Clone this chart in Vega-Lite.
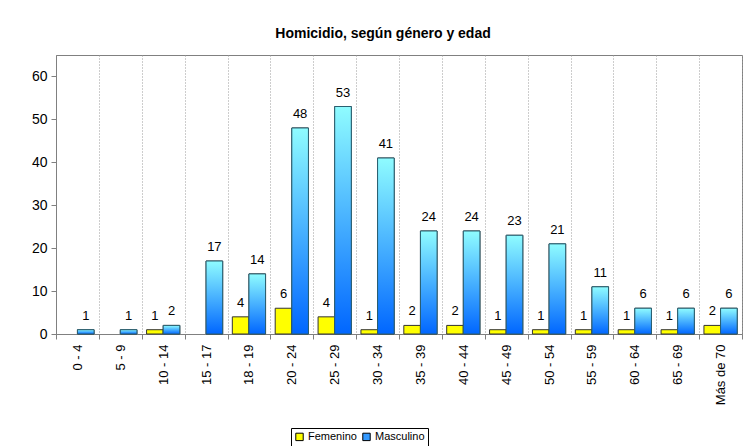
{
  "$schema": "https://vega.github.io/schema/vega-lite/v6.json",
  "width": 686,
  "height": 279,
  "autosize": {"type": "none"},
  "padding": {"left": 56, "top": 55, "right": 4, "bottom": 112},
  "background": "white",
  "title": {
    "text": "Homicidio, según género y edad",
    "font": "Liberation Sans",
    "fontSize": 14,
    "fontWeight": "bold",
    "color": "black",
    "anchor": "middle",
    "dx": -16,
    "offset": 14
  },
  "config": {
    "font": "Liberation Sans",
    "view": {"stroke": "#808080", "strokeWidth": 1}
  },
  "data": {
    "values": [
      {"edad": "0 - 4", "genero": "Femenino", "valor": 0},
      {"edad": "0 - 4", "genero": "Masculino", "valor": 1},
      {"edad": "5 - 9", "genero": "Femenino", "valor": 0},
      {"edad": "5 - 9", "genero": "Masculino", "valor": 1},
      {"edad": "10 - 14", "genero": "Femenino", "valor": 1},
      {"edad": "10 - 14", "genero": "Masculino", "valor": 2},
      {"edad": "15 - 17", "genero": "Femenino", "valor": 0},
      {"edad": "15 - 17", "genero": "Masculino", "valor": 17},
      {"edad": "18 - 19", "genero": "Femenino", "valor": 4},
      {"edad": "18 - 19", "genero": "Masculino", "valor": 14},
      {"edad": "20 - 24", "genero": "Femenino", "valor": 6},
      {"edad": "20 - 24", "genero": "Masculino", "valor": 48},
      {"edad": "25 - 29", "genero": "Femenino", "valor": 4},
      {"edad": "25 - 29", "genero": "Masculino", "valor": 53},
      {"edad": "30 - 34", "genero": "Femenino", "valor": 1},
      {"edad": "30 - 34", "genero": "Masculino", "valor": 41},
      {"edad": "35 - 39", "genero": "Femenino", "valor": 2},
      {"edad": "35 - 39", "genero": "Masculino", "valor": 24},
      {"edad": "40 - 44", "genero": "Femenino", "valor": 2},
      {"edad": "40 - 44", "genero": "Masculino", "valor": 24},
      {"edad": "45 - 49", "genero": "Femenino", "valor": 1},
      {"edad": "45 - 49", "genero": "Masculino", "valor": 23},
      {"edad": "50 - 54", "genero": "Femenino", "valor": 1},
      {"edad": "50 - 54", "genero": "Masculino", "valor": 21},
      {"edad": "55 - 59", "genero": "Femenino", "valor": 1},
      {"edad": "55 - 59", "genero": "Masculino", "valor": 11},
      {"edad": "60 - 64", "genero": "Femenino", "valor": 1},
      {"edad": "60 - 64", "genero": "Masculino", "valor": 6},
      {"edad": "65 - 69", "genero": "Femenino", "valor": 1},
      {"edad": "65 - 69", "genero": "Masculino", "valor": 6},
      {"edad": "Más de 70", "genero": "Femenino", "valor": 2},
      {"edad": "Más de 70", "genero": "Masculino", "valor": 6}
    ]
  },
  "encoding": {
    "x": {
      "field": "edad",
      "type": "nominal",
      "sort": null,
      "scale": {"paddingInner": 0, "paddingOuter": 0},
      "axis": {
        "title": null,
        "labelAngle": -90,
        "labelFontSize": 13,
        "labelColor": "black",
        "labelPadding": 5,
        "tickBand": "extent",
        "grid": true,
        "gridDash": [1, 2],
        "gridColor": "#9a9a9a",
        "domainColor": "#808080",
        "tickColor": "#808080",
        "tickSize": 5
      }
    },
    "xOffset": {
      "field": "genero",
      "type": "nominal",
      "scale": {"domain": ["Femenino", "Masculino"], "paddingInner": 0, "paddingOuter": 0.29}
    },
    "y": {
      "field": "valor",
      "type": "quantitative",
      "scale": {"domain": [0, 65], "nice": false},
      "axis": {
        "title": null,
        "values": [0, 10, 20, 30, 40, 50, 60],
        "grid": false,
        "labelFontSize": 14,
        "labelColor": "black",
        "labelPadding": 4,
        "domainColor": "#808080",
        "tickColor": "#808080",
        "tickSize": 5
      }
    }
  },
  "layer": [
    {
      "transform": [{"filter": "datum.valor > 0"}],
      "mark": {"type": "bar", "stroke": "#333333", "strokeWidth": 1},
      "encoding": {
        "color": {
          "field": "genero",
          "type": "nominal",
          "scale": {"domain": ["Femenino", "Masculino"], "range": ["#ffff00", "#3399ff"]},
          "legend": {
            "title": null,
            "orient": "none",
            "legendX": 235,
            "legendY": 373,
            "direction": "horizontal",
            "strokeColor": "black",
            "padding": 3,
            "symbolType": "square",
            "symbolSize": 55,
            "symbolStrokeColor": "black",
            "symbolStrokeWidth": 1,
            "labelFontSize": 11,
            "labelColor": "black",
            "labelOffset": 3,
            "columnPadding": 3
          }
        }
      }
    },
    {
      "transform": [{"filter": "datum.genero === 'Masculino'"}],
      "mark": {
        "type": "bar",
        "stroke": "#2a5f70",
        "strokeWidth": 1,
        "fill": {
          "gradient": "linear",
          "x1": 0, "y1": 0, "x2": 0, "y2": 1,
          "stops": [
            {"offset": 0, "color": "#8ffcff"},
            {"offset": 1, "color": "#0066ff"}
          ]
        }
      }
    },
    {
      "transform": [{"filter": "datum.valor > 0"}],
      "mark": {"type": "text", "baseline": "bottom", "dy": -7, "fontSize": 13, "fill": "black"},
      "encoding": {"text": {"field": "valor", "type": "quantitative"}}
    }
  ]
}
